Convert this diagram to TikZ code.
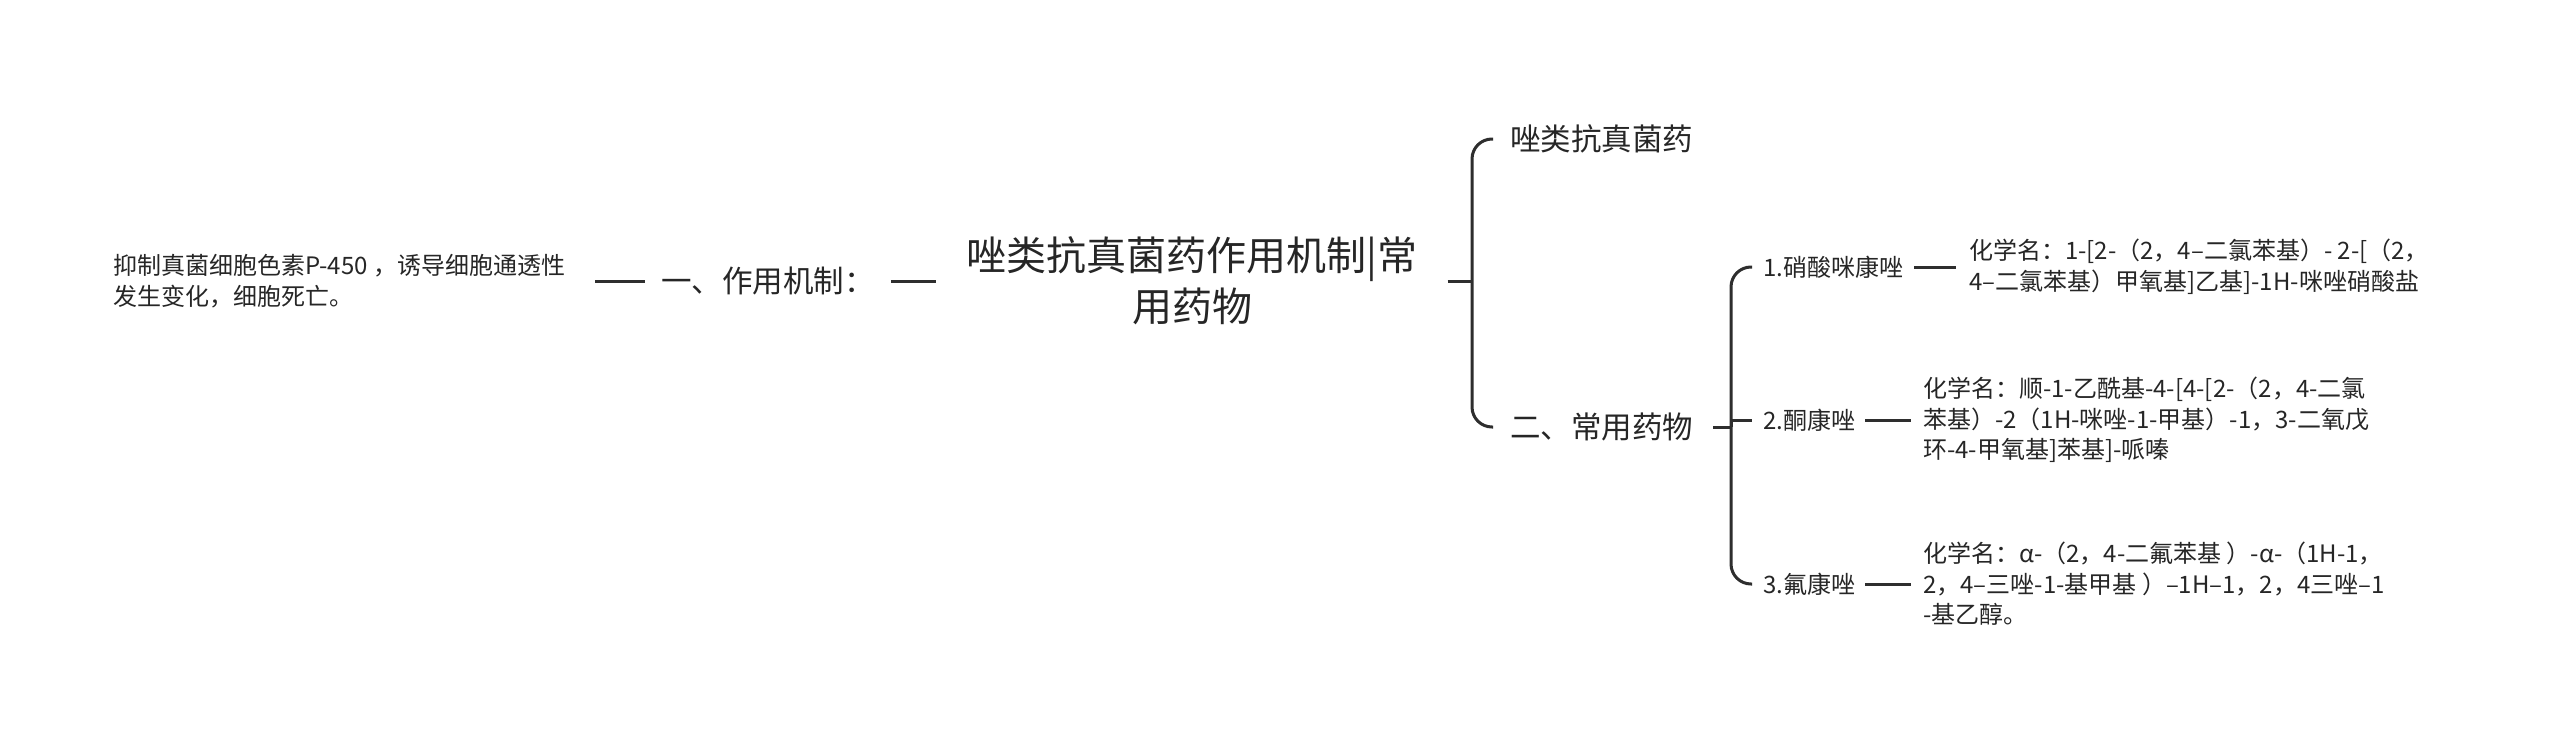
\documentclass[tikz,border=0pt]{standalone}
\usepackage{fontspec}
\setmainfont{Noto Sans CJK SC}
\begin{document}
\begin{tikzpicture}[x=1pt,y=-1pt,
  conn/.style={line width=3pt, draw=black!82},
  every node/.style={inner sep=0pt, text=black!85},
  big/.style={font=\fontsize{40}{51}\selectfont, align=center},
  mid/.style={font=\fontsize{30.5}{36}\selectfont},
  small/.style={font=\fontsize{24}{30.5}\selectfont, align=left},
]
\useasboundingbox[fill=white] (0,0) rectangle (2560,744);

\node[big] (root) at (1192,281) {唑类抗真菌药作用机制|常\\用药物};
\node[mid, anchor=west] (m1) at (661,281) {一、作用机制：};
\node[small, anchor=west] (lt) at (113,281) {抑制真菌细胞色素P-450 ，诱导细胞通透性\\发生变化，细胞死亡。};
\node[mid, anchor=west] (b1) at (1510,139) {唑类抗真菌药};
\node[mid, anchor=west] (b2) at (1510,427) {二、常用药物};
\node[small, anchor=west] (c1) at (1763,267) {1.硝酸咪康唑};
\node[small, anchor=west] (c2) at (1763,420) {2.酮康唑};
\node[small, anchor=west] (c3) at (1763,584) {3.氟康唑};
\node[small, anchor=west] (d1) at (1969,267) {化学名：1-[2-（2，4–二氯苯基）- 2-[（2，\\4–二氯苯基）甲氧基]乙基]-1H-咪唑硝酸盐};
\node[small, anchor=west] (d2) at (1923,420) {化学名：顺-1-乙酰基-4-[4-[2-（2，4-二氯\\苯基）-2（1H-咪唑-1-甲基）-1，3-二氧戊\\环-4-甲氧基]苯基]-哌嗪};
\node[small, anchor=west] (d3) at (1923,584) {化学名：α-（2，4-二氟苯基 ）-α-（1H-1，\\2，4–三唑-1-基甲基 ）–1H–1，2，4三唑–1\\-基乙醇。};

\coordinate (j1) at (1472,281);
\coordinate (j2) at (1731,427);

\draw[conn, shorten <=30pt, shorten >=16pt] (lt.east) -- (m1.west);
\draw[conn, shorten <=16pt, shorten >=30pt] (m1.east) -- (root.west);
\draw[conn, shorten <=30pt] (root.east) -- (j1);
\draw[conn, rounded corners=20pt, shorten <=17pt, shorten >=17pt] (b1.west) -| (j1) |- (b2.west);
\draw[conn, shorten <=20pt] (b2.east) -- (j2);
\draw[conn, rounded corners=20pt, shorten <=11pt, shorten >=11pt] (c1.west) -| (j2) |- (c3.west);
\draw[conn, shorten >=11pt] (j2) |- (c2.west);
\draw[conn, shorten <=11pt, shorten >=13pt] (c1.east) -- (d1.west);
\draw[conn, shorten <=10pt, shorten >=12pt] (c2.east) -- (d2.west);
\draw[conn, shorten <=10pt, shorten >=12pt] (c3.east) -- (d3.west);
\end{tikzpicture}
\end{document}
